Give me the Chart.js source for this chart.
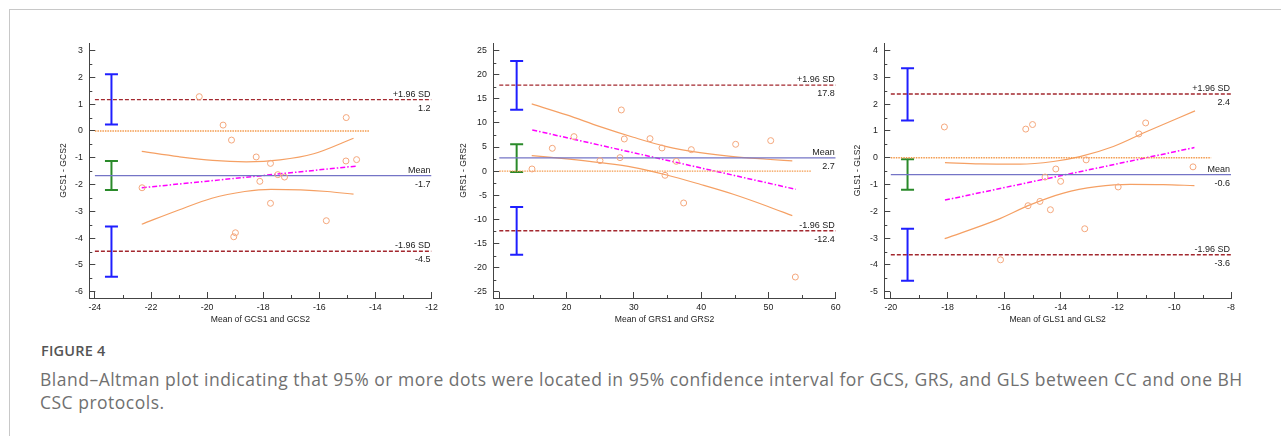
<!DOCTYPE html>
<html>
<head>
<meta charset="utf-8">
<script src="https://cdn.jsdelivr.net/npm/chart.js@4.4.1/dist/chart.umd.min.js"></script>
<style>
    body { margin: 0; background: #fff; width: 1281px; height: 436px; overflow: hidden; position: relative; font-family: "Open Sans", sans-serif; }
    .frame { position: absolute; left: 9px; top: 9px; width: 1400px; height: 600px; border-top: 1px solid #c8c8c8; border-left: 1px solid #c8c8c8; }
    canvas { position: absolute; top: 30px; }
    #gcs { left: 20px; }
    #grs { left: 440px; }
    #gls { left: 840px; }
    .fig { position: absolute; left: 41px; top: 341px; font-size: 14.5px; font-weight: 600; color: #555; letter-spacing: 0.2px; }
    .cap { position: absolute; left: 40px; top: 368px; font-size: 17.5px; line-height: 23px; color: #707070; white-space: nowrap; letter-spacing: 0.5px; }
</style>
</head>
<body>
<div class="frame"></div>
<canvas id="gcs" width="420" height="300"></canvas>
<canvas id="grs" width="420" height="300"></canvas>
<canvas id="gls" width="420" height="300"></canvas>
<div class="fig">FIGURE 4</div>
<div class="cap">Bland–Altman plot indicating that 95% or more dots were located in 95% confidence interval for GCS, GRS, and GLS between CC and one BH<br>CSC protocols.</div>
<script>
// ---- GCS ----
const gcsMean = [-22.32, -20.28, -19.43, -19.13, -19.05, -18.99, -18.25, -18.12, -17.74, -17.74, -17.48, -17.24, -15.75, -15.05, -15.04, -14.67];
const gcsDiff = [-2.12, 1.28, 0.22, -0.34, -3.95, -3.80, -0.97, -1.88, -1.21, -2.70, -1.63, -1.72, -3.35, -1.12, 0.50, -1.07];
const gcsLimits = [1.17, -1.67, -4.49];
const gcsLimitCI = [[2.12, 0.24], [-1.12, -2.20], [-3.57, -5.44]];
const gcsRegX = [-22.33, -14.67];
const gcsRegY = [-2.12, -1.31];
const gcsUpX = [-22.33, -21.01, -19.8, -18.6, -17.4, -16.2, -14.78];
const gcsUpY = [-0.76, -0.96, -1.10, -1.15, -1.08, -0.85, -0.27];
const gcsLoX = [-22.33, -21.01, -19.83, -18.66, -17.72, -16.66, -15.72, -14.78];
const gcsLoY = [-3.48, -2.95, -2.51, -2.26, -2.18, -2.20, -2.26, -2.36];
const gcsZeroEnd = -14.22;
const gcsXTicks = [-24, -22, -20, -18, -16, -14, -12];
const gcsYTicks = [-6, -5, -4, -3, -2, -1, 0, 1, 2, 3];

// ---- GRS ----
const grsMean = [14.86, 17.88, 21.1, 24.97, 27.94, 28.14, 28.58, 32.4, 34.18, 34.63, 36.31, 37.4, 38.54, 45.13, 50.34, 54.0];
const grsDiff = [0.45, 4.74, 7.16, 2.18, 2.8, 12.69, 6.67, 6.74, 4.81, -0.86, 2.04, -6.6, 4.46, 5.57, 6.33, -21.96];
const grsLimits = [17.84, 2.74, -12.36];
const grsLimitCI = [[22.86, 12.76], [5.57, -0.17], [-7.43, -17.32]];
const grsRegX = [14.9, 54.05];
const grsRegY = [8.55, -3.76];
const grsUpX = [14.82, 20.02, 24.97, 29.92, 34.88, 39.83, 44.78, 49.74, 53.55];
const grsUpY = [13.94, 11.66, 9.23, 7.03, 5.08, 3.84, 3.0, 2.47, 2.12];
const grsLoX = [14.82, 20.02, 24.97, 29.92, 34.88, 39.83, 44.78, 49.74, 53.55];
const grsLoY = [3.22, 2.53, 1.76, 0.80, -0.79, -2.72, -4.79, -7.22, -9.23];
const grsZeroEnd = 56.3;
const grsXTicks = [10, 20, 30, 40, 50, 60];
const grsYTicks = [-25, -20, -15, -10, -5, 0, 5, 10, 15, 20, 25];

// ---- GLS ----
const glsMean = [-18.11, -16.13, -15.24, -15.16, -15.0, -14.74, -14.56, -14.37, -14.18, -14.01, -13.16, -13.11, -11.98, -11.25, -11.01, -9.34];
const glsDiff = [1.15, -3.81, 1.07, -1.79, 1.24, -1.63, -0.72, -1.94, -0.42, -0.88, -2.65, -0.08, -1.09, 0.89, 1.30, -0.34];
const glsLimits = [2.38, -0.63, -3.62];
const glsLimitCI = [[3.34, 1.39], [-0.06, -1.19], [-2.65, -4.59]];
const glsRegX = [-18.09, -9.29];
const glsRegY = [-1.58, 0.38];
const glsUpX = [-18.09, -16.85, -15.44, -14.27, -13.33, -12.15, -10.97, -9.27];
const glsUpY = [-0.18, -0.23, -0.24, -0.14, 0.04, 0.42, 0.98, 1.75];
const glsLoX = [-18.1, -16.26, -15.09, -13.91, -12.74, -11.56, -10.39, -9.29];
const glsLoY = [-3.02, -2.32, -1.76, -1.32, -1.08, -0.99, -1.00, -1.04];
const glsZeroEnd = -8.7;
const glsXTicks = [-20, -18, -16, -14, -12, -10, -8];
const glsYTicks = [-5, -4, -3, -2, -1, 0, 1, 2, 3, 4];

const limitNames = ["+1.96 SD", "Mean", "-1.96 SD"];
const FONT = '"Liberation Sans", Arial, sans-serif';
const AXIS = "#444";

const minorTicks = {
    id: "minorTicks",
    afterDraw(chart, args, opts) {
        const ctx = chart.ctx;
        const x = chart.scales.x;
        const y = chart.scales.y;
        ctx.save();
        ctx.strokeStyle = AXIS;
        ctx.lineWidth = 1;
        ctx.beginPath();
        opts.x.forEach(function (v) {
            const px = Math.round(x.getPixelForValue(v)) + 0.5;
            ctx.moveTo(px, x.top);
            ctx.lineTo(px, x.top - 3);
        });
        opts.y.forEach(function (v) {
            const py = Math.round(y.getPixelForValue(v)) + 0.5;
            ctx.moveTo(y.right, py);
            ctx.lineTo(y.right + 3, py);
        });
        ctx.stroke();
        ctx.restore();
    }
};

const limitLabels = {
    id: "limitLabels",
    afterDatasetsDraw(chart, args, opts) {
        const ctx = chart.ctx;
        const y = chart.scales.y;
        const rx = chart.chartArea.right - 1;
        ctx.save();
        ctx.font = "9px " + FONT;
        ctx.fillStyle = "#222";
        ctx.textAlign = "right";
        ctx.textBaseline = "middle";
        opts.values.forEach(function (v, i) {
            const py = y.getPixelForValue(v);
            ctx.fillText(limitNames[i], rx, py - 5.5);
            ctx.fillText(v.toFixed(1), rx, py + 8.5);
        });
        ctx.restore();
    }
};

function pairs(xs, ys) {
    return xs.map((v, i) => ({x: v, y: ys[i]}));
}

function hLine(x0, x1, v) {
    return [{x: x0, y: v}, {x: x1, y: v}];
}

function stepList(a, b, step) {
    const out = [];
    for (let v = a; v <= b + 1e-9; v += step) out.push(Math.round(v * 100) / 100);
    return out;
}

// drop the label overflow padding so the plot area lands where the layout says
function noPad(s) {
    s.paddingLeft = 0;
    s.paddingRight = 0;
    s.paddingTop = 0;
    s.paddingBottom = 0;
}

function makeBA(id, d, lay) {
    const ctx = document.getElementById(id).getContext("2d");
    const x0 = d.xTicks[0];
    const x1 = d.xTicks[d.xTicks.length - 1];
    const lineSet = (data, color, width, dash) => ({
        data: data, showLine: true, borderColor: color, borderWidth: width,
        borderDash: dash, pointRadius: 0, fill: false
    });
    const curve = (data) => Object.assign(lineSet(data, "#f5a064", 1.2, []), {tension: 0.4, cubicInterpolationMode: "monotone"});
    const errBar = (pair, color) => ({
        data: [{x: d.ciX, y: pair[0]}, {x: d.ciX, y: pair[1]}],
        showLine: true, borderColor: color, borderWidth: 2,
        pointStyle: "line", pointRadius: 6.5, pointBorderWidth: 2, pointBorderColor: color
    });

    return new Chart(ctx, {
        type: "scatter",
        data: {
            datasets: [
                {
                    data: pairs(d.mean, d.diff),
                    pointStyle: "circle", pointRadius: 3,
                    backgroundColor: "rgba(0,0,0,0)", borderColor: "#f4a77c", borderWidth: 1
                },
                lineSet(hLine(x0, x1, d.limits[0]), "#a3282f", 1.4, [4, 2]),
                lineSet(hLine(x0, x1, d.limits[1]), "#7474c6", 1.3, []),
                lineSet(hLine(x0, x1, d.limits[2]), "#a3282f", 1.4, [4, 2]),
                lineSet(hLine(x0, d.zeroEnd, 0), "#f39a4c", 1.4, [1.5, 1]),
                lineSet(pairs(d.regX, d.regY), "#ff00ff", 1.5, [5, 2, 1.5, 2]),
                curve(pairs(d.upX, d.upY)),
                curve(pairs(d.loX, d.loY)),
                errBar(d.ci[0], "#1f1fff"),
                errBar(d.ci[1], "#2a8a2a"),
                errBar(d.ci[2], "#1f1fff")
            ]
        },
        options: {
            responsive: false,
            animation: false,
            layout: {padding: {top: 13, right: lay.padRight, left: 0, bottom: 0}},
            plugins: {
                legend: {display: false},
                tooltip: {enabled: false},
                minorTicks: {x: d.xMinor, y: d.yMinor},
                limitLabels: {values: d.limits}
            },
            scales: {
                x: {
                    type: "linear", min: d.xMin, max: x1,
                    afterBuildTicks: (s) => { s.ticks = d.xTicks.map(v => ({value: v})); },
                    afterFit: (s) => { s.height = 32; noPad(s); },
                    grid: {drawOnChartArea: false, tickLength: -6, tickColor: AXIS},
                    border: {display: true, color: AXIS, width: 1},
                    ticks: {padding: 10, autoSkip: false, maxRotation: 0, color: "#222",
                        font: {family: FONT, size: 8.8}, callback: (v) => String(v)},
                    title: {display: true, text: d.xTitle, color: "#222",
                        font: {family: FONT, size: 8.6}, padding: {top: 0, bottom: 5}}
                },
                y: {
                    type: "linear", min: d.yMin, max: d.yMax,
                    afterBuildTicks: (s) => { s.ticks = d.yTicks.map(v => ({value: v})); },
                    afterFit: (s) => { s.width = lay.axisW; noPad(s); },
                    grid: {drawOnChartArea: false, tickLength: -6, tickColor: AXIS},
                    border: {display: true, color: AXIS, width: 1},
                    ticks: {padding: 12.5, autoSkip: false, color: "#222",
                        font: {family: FONT, size: 8.8}, callback: (v) => String(v)},
                    title: {display: true, text: d.yTitle, color: "#222",
                        font: {family: FONT, size: 8.6}, padding: {top: lay.titlePad, bottom: 0}}
                }
            }
        },
        plugins: [minorTicks, limitLabels]
    });
}

makeBA("gcs", {
    mean: gcsMean, diff: gcsDiff, limits: gcsLimits, ci: gcsLimitCI, ciX: -23.41,
    regX: gcsRegX, regY: gcsRegY, upX: gcsUpX, upY: gcsUpY, loX: gcsLoX, loY: gcsLoY,
    zeroEnd: gcsZeroEnd, xTicks: gcsXTicks, yTicks: gcsYTicks,
    xMinor: stepList(-23, -13, 2), yMinor: stepList(-5.5, 2.5, 1),
    xMin: -24.2, yMin: -6.235, yMax: 3.284,
    xTitle: "Mean of GCS1 and GCS2", yTitle: "GCS1 - GCS2"
}, {axisW: 69.3, padRight: 4.3, titlePad: 38.2});

makeBA("grs", {
    mean: grsMean, diff: grsDiff, limits: grsLimits, ci: grsLimitCI, ciX: 12.58,
    regX: grsRegX, regY: grsRegY, upX: grsUpX, upY: grsUpY, loX: grsLoX, loY: grsLoY,
    zeroEnd: grsZeroEnd, xTicks: grsXTicks, yTicks: grsYTicks,
    xMinor: stepList(15, 55, 10), yMinor: stepList(-22.5, 22.5, 5),
    xMin: 9.11, yMin: -26.31, yMax: 26.58,
    xTitle: "Mean of GRS1 and GRS2", yTitle: "GRS1 - GRS2"
}, {axisW: 53.3, padRight: 24.3, titlePad: 18.2});

makeBA("gls", {
    mean: glsMean, diff: glsDiff, limits: glsLimits, ci: glsLimitCI, ciX: -19.41,
    regX: glsRegX, regY: glsRegY, upX: glsUpX, upY: glsUpY, loX: glsLoX, loY: glsLoY,
    zeroEnd: glsZeroEnd, xTicks: glsXTicks, yTicks: glsYTicks,
    xMinor: stepList(-19, -9, 2), yMinor: stepList(-4.5, 3.5, 1),
    xMin: -20.23, yMin: -5.235, yMax: 4.284,
    xTitle: "Mean of GLS1 and GLS2", yTitle: "GLS1 - GLS2"
}, {axisW: 44.3, padRight: 29, titlePad: 12.2});
</script>
</body>
</html>
